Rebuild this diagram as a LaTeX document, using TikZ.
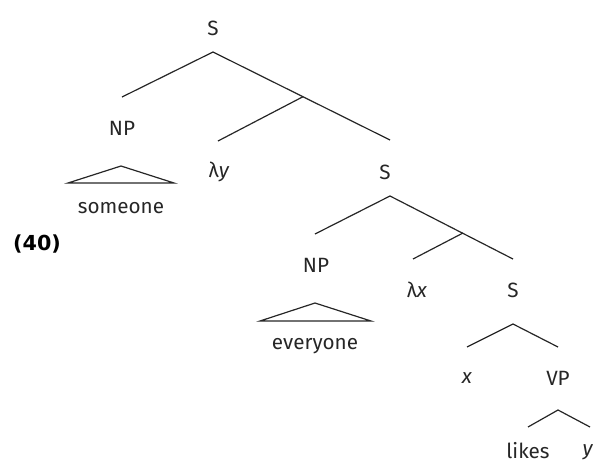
\documentclass[tikz,border=0pt]{standalone}
\usepackage{fontspec}
\setmainfont{Fira Sans}
\newfontfamily\numfont{DejaVu Sans}
\begin{document}
\begin{tikzpicture}[x=0.75pt,y=-0.75pt,
  lab/.style={inner sep=0pt,font=\fontsize{15.5}{18}\selectfont,text=black!85},
  br/.style={line width=0.9pt,draw=black!85}]
\useasboundingbox (0,0) rectangle (593,465);
\begin{scope}
\clip (0,0) rectangle (593,465);
% labels
\node[lab] (s1) at (213,28) {S};
\node[lab] (np1) at (122,128) {NP};
\node[lab] (ly) at (219,172) {λ\textit{y}};
\node[lab] (someone) at (121,208) {someone};
\node[lab] (s2) at (385,172) {S};
\node[lab] (np2) at (316,265) {NP};
\node[lab] (everyone) at (315,346) {everyone};
\node[lab] (lx) at (417,290) {λ\textit{x}};
\node[lab] (s3) at (513,290) {S};
\node[lab] (x) at (467,378) {\textit{x}};
\node[lab] (vp) at (558,378) {VP};
\node[lab] (likes) at (528,451) {likes};
\node[lab] (yy) at (588,452) {\textit{y}};
\node[font=\numfont\bfseries\fontsize{15.5}{18}\selectfont,inner sep=0pt] (num) at (37,244) {(40)};
% coordinates
\coordinate (a1) at (213,52);
\coordinate (e1) at (122,97);
\coordinate (e2) at (390,140);
\coordinate (m1) at (303,96.7);
\coordinate (e3) at (218,141);
\coordinate (a2) at (390,196);
\coordinate (f1) at (315,234);
\coordinate (f2) at (513,259);
\coordinate (m2) at (463,233);
\coordinate (f3) at (413,259);
\coordinate (a3) at (513,324);
\coordinate (g1) at (467,347);
\coordinate (g2) at (558,347);
\coordinate (a4) at (558,410);
\coordinate (h1) at (528,427);
\coordinate (h2) at (590,427);
% triangles
\coordinate (t1) at (121,166);
\coordinate (t1l) at (68,183);
\coordinate (t1r) at (174,183);
\coordinate (t2) at (315,303);
\coordinate (t2l) at (260,321);
\coordinate (t2r) at (371,321);
% branches
\draw[br] (e1) -- (a1) -- (e2);
\draw[br] (m1) -- (e3);
\draw[br] (f1) -- (a2) -- (f2);
\draw[br] (m2) -- (f3);
\draw[br] (g1) -- (a3) -- (g2);
\draw[br] (h1) -- (a4) -- (h2);
\draw[br] (t1) -- (t1l) -- (t1r) -- cycle;
\draw[br] (t2) -- (t2l) -- (t2r) -- cycle;
\end{scope}
\end{tikzpicture}
\end{document}
